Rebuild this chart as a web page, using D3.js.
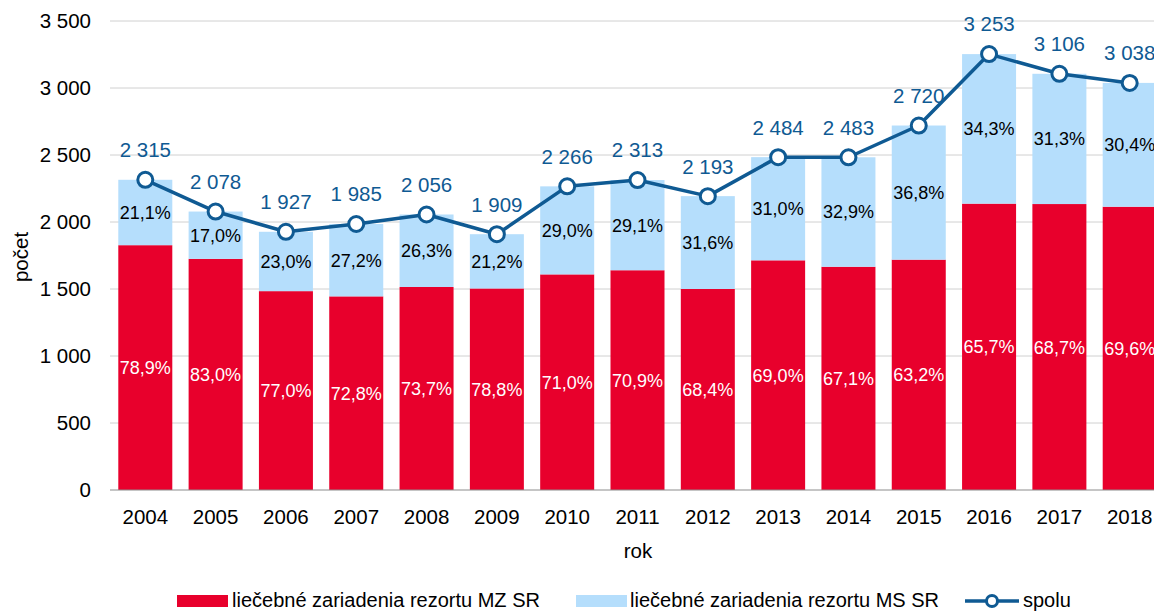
<!DOCTYPE html>
<html>
<head>
<meta charset="utf-8">
<script src="https://cdn.jsdelivr.net/npm/d3@7"></script>
<style>
  body { margin: 0; background: #fff; overflow: hidden; }
  svg { display: block; font-family: "Liberation Sans", Arial, sans-serif; }
</style>
</head>
<body>
<div id="chart"></div>
<script>
// data
const years = ["2004","2005","2006","2007","2008","2009","2010","2011","2012","2013","2014","2015","2016","2017","2018"];
const mzValues = [1827, 1725, 1484, 1445, 1515, 1504, 1609, 1640, 1500, 1714, 1666, 1719, 2137, 2134, 2114];
const msValues = [488, 353, 443, 540, 541, 405, 657, 673, 693, 770, 817, 1001, 1116, 972, 924];
const totals = [2315, 2078, 1927, 1985, 2056, 1909, 2266, 2313, 2193, 2484, 2483, 2720, 3253, 3106, 3038];
const mzPct = ["78,9%","83,0%","77,0%","72,8%","73,7%","78,8%","71,0%","70,9%","68,4%","69,0%","67,1%","63,2%","65,7%","68,7%","69,6%"];
const msPct = ["21,1%","17,0%","23,0%","27,2%","26,3%","21,2%","29,0%","29,1%","31,6%","31,0%","32,9%","36,8%","34,3%","31,3%","30,4%"];
const yTicks = [0, 500, 1000, 1500, 2000, 2500, 3000, 3500];

const colors = {
    red: '#E8002C',
    lightBlue: '#B5DEFC',
    line: '#0F5A93',
    grid: '#D0D0D0',
    axis: '#8C8C8C'
};

const W = 1154, H = 611;
// plot area runs past the right edge of the picture, as in the reference
const margin = {top: 21, right: -11, bottom: 121, left: 110};
const width = W - margin.left - margin.right,
    height = H - margin.top - margin.bottom;

const fmt = v => d3.format(",")(v).replace(/,/g, " ");

const svg = d3.select("#chart").append("svg")
    .attr("width", W)
    .attr("height", H);

const g = svg.append("g")
    .attr("transform", "translate(" + margin.left + "," + margin.top + ")");

// scales
const x = d3.scaleBand()
    .domain(years)
    .range([0, width])
    .paddingInner(0.232)
    .paddingOuter(0.118);

const y = d3.scaleLinear()
    .domain([0, 3500])
    .range([height, 0]);

// gridlines
g.append("g")
    .selectAll("line")
    .data(yTicks.filter(d => d > 0))
    .enter().append("line")
    .attr("x1", 0)
    .attr("x2", width)
    .attr("y1", d => y(d))
    .attr("y2", d => y(d))
    .attr("stroke", colors.grid)
    .attr("stroke-width", 1);

// y tick labels
g.append("g")
    .selectAll("text")
    .data(yTicks)
    .enter().append("text")
    .attr("x", -19)
    .attr("y", d => y(d))
    .attr("dy", "0.36em")
    .attr("text-anchor", "end")
    .attr("font-size", 20.5)
    .attr("fill", "#000")
    .text(d => fmt(d));

// stacked bars
const rows = years.map((yr, i) => ({year: yr, mz: mzValues[i], ms: msValues[i], total: totals[i], mzPct: mzPct[i], msPct: msPct[i]}));

const bars = g.append("g").attr("class", "bars");

bars.selectAll(".bar-mz")
    .data(rows)
    .enter().append("rect")
    .attr("class", "bar-mz")
    .attr("x", d => x(d.year))
    .attr("width", x.bandwidth())
    .attr("y", d => y(d.mz))
    .attr("height", d => y(0) - y(d.mz))
    .attr("fill", colors.red);

bars.selectAll(".bar-ms")
    .data(rows)
    .enter().append("rect")
    .attr("class", "bar-ms")
    .attr("x", d => x(d.year))
    .attr("width", x.bandwidth())
    .attr("y", d => y(d.mz + d.ms))
    .attr("height", d => y(d.mz) - y(d.mz + d.ms))
    .attr("fill", colors.lightBlue);

// x axis line
g.append("line")
    .attr("x1", 0)
    .attr("x2", width)
    .attr("y1", y(0))
    .attr("y2", y(0))
    .attr("stroke", colors.axis)
    .attr("stroke-width", 1);

// x labels
g.append("g")
    .selectAll("text")
    .data(years)
    .enter().append("text")
    .attr("x", d => x(d) + x.bandwidth() / 2)
    .attr("y", y(0) + 27)
    .attr("dy", "0.36em")
    .attr("text-anchor", "middle")
    .attr("font-size", 20.5)
    .text(d => d);

// percentage labels
g.append("g")
    .selectAll("text")
    .data(rows)
    .enter().append("text")
    .attr("x", d => x(d.year) + x.bandwidth() / 2)
    .attr("y", d => y(d.mz / 2))
    .attr("dy", "0.36em")
    .attr("text-anchor", "middle")
    .attr("font-size", 18)
    .attr("fill", "#fff")
    .text(d => d.mzPct);

g.append("g")
    .selectAll("text")
    .data(rows)
    .enter().append("text")
    .attr("x", d => x(d.year) + x.bandwidth() / 2)
    .attr("y", d => y(d.mz + d.ms / 2))
    .attr("dy", "0.36em")
    .attr("text-anchor", "middle")
    .attr("font-size", 18)
    .attr("fill", "#000")
    .text(d => d.msPct);

// total line
const line = d3.line()
    .x(d => x(d.year) + x.bandwidth() / 2)
    .y(d => y(d.total));

g.append("path")
    .datum(rows)
    .attr("d", line)
    .attr("fill", "none")
    .attr("stroke", colors.line)
    .attr("stroke-width", 3.5)
    .attr("stroke-linejoin", "round");

g.append("g")
    .selectAll("circle")
    .data(rows)
    .enter().append("circle")
    .attr("cx", d => x(d.year) + x.bandwidth() / 2)
    .attr("cy", d => y(d.total))
    .attr("r", 7.5)
    .attr("fill", "#fff")
    .attr("stroke", colors.line)
    .attr("stroke-width", 3);

g.append("g")
    .selectAll("text")
    .data(rows)
    .enter().append("text")
    .attr("x", d => x(d.year) + x.bandwidth() / 2)
    .attr("y", d => y(d.total) - 30)
    .attr("dy", "0.36em")
    .attr("text-anchor", "middle")
    .attr("font-size", 20.5)
    .attr("fill", colors.line)
    .text(d => fmt(d.total));

// axis titles
svg.append("text")
    .attr("transform", "translate(21," + 257 + ") rotate(-90)")
    .attr("text-anchor", "middle")
    .attr("dy", "0.36em")
    .attr("font-size", 20.5)
    .text("počet");

svg.append("text")
    .attr("x", 638)
    .attr("y", 551)
    .attr("dy", "0.36em")
    .attr("text-anchor", "middle")
    .attr("font-size", 20.5)
    .text("rok");

// legend
const legend = svg.append("g").attr("transform", "translate(0,600)");

legend.append("rect")
    .attr("x", 177).attr("y", -5)
    .attr("width", 51).attr("height", 12)
    .attr("fill", colors.red);
legend.append("text")
    .attr("x", 232).attr("dy", "0.34em")
    .attr("font-size", 20)
    .text("liečebné zariadenia rezortu MZ SR");

legend.append("rect")
    .attr("x", 576).attr("y", -5)
    .attr("width", 51).attr("height", 12)
    .attr("fill", colors.lightBlue);
legend.append("text")
    .attr("x", 630).attr("dy", "0.34em")
    .attr("font-size", 20)
    .text("liečebné zariadenia rezortu MS SR");

legend.append("line")
    .attr("x1", 965).attr("x2", 1019)
    .attr("y1", 1).attr("y2", 1)
    .attr("stroke", colors.line)
    .attr("stroke-width", 3.5);
legend.append("circle")
    .attr("cx", 992).attr("cy", 1).attr("r", 5.5)
    .attr("fill", "#fff")
    .attr("stroke", colors.line)
    .attr("stroke-width", 3);
legend.append("text")
    .attr("x", 1023).attr("dy", "0.34em")
    .attr("font-size", 20)
    .text("spolu");
</script>
</body>
</html>
